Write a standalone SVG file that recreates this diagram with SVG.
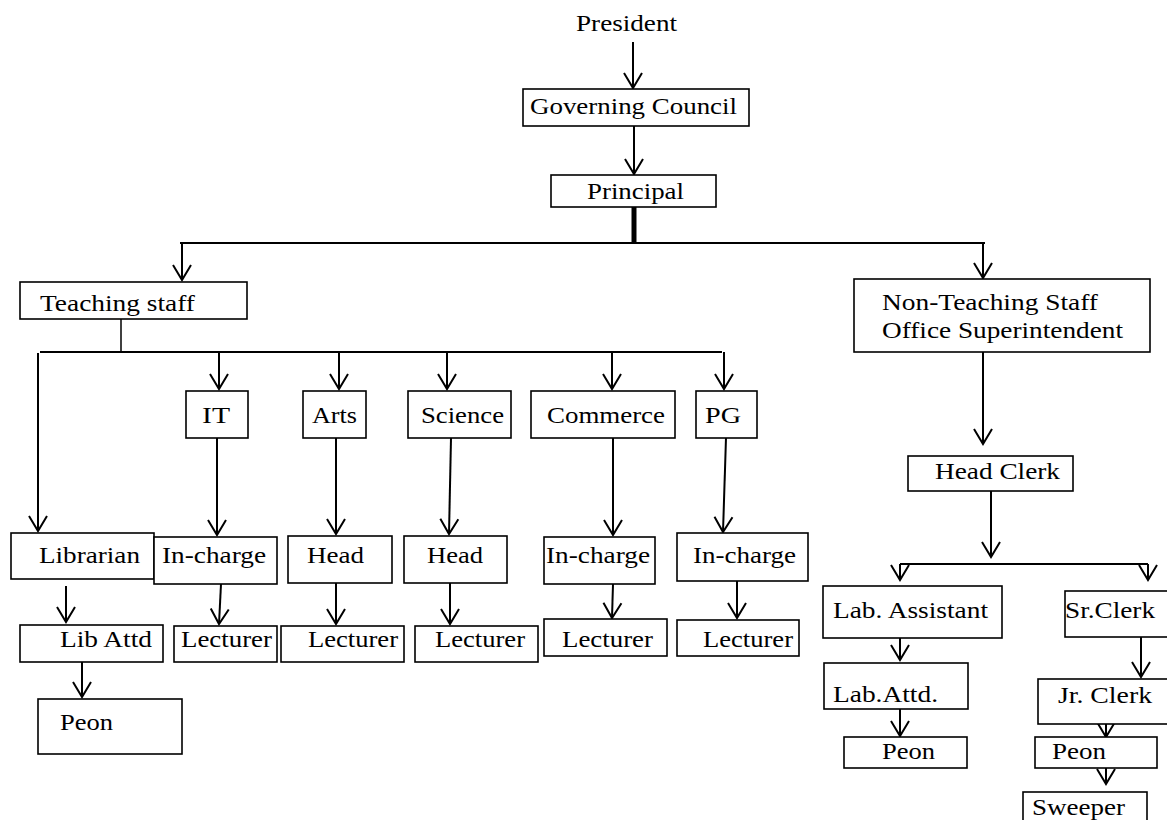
<svg xmlns="http://www.w3.org/2000/svg" width="1167" height="820" viewBox="0 0 1167 820">
<style>
.b{fill:#fff;stroke:#000;stroke-width:1.6}
.t{font-size:24px;fill:#000}
.c{fill:none;stroke:#000;stroke-width:2}
.a{marker-end:url(#ah)}
</style>
<defs>
<marker id="ah" markerUnits="userSpaceOnUse" viewBox="-16 -10 18 20" refX="0" refY="0" markerWidth="18" markerHeight="20" orient="auto" overflow="visible">
<path d="M-15,-9 L0,0 L-15,9" fill="none" stroke="#000" stroke-width="2"/>
</marker>
</defs>
<rect width="1167" height="820" fill="#fff"/>
<g id="connectors">
<path class="c a" d="M633,42 V88"/>
<path class="c a" d="M634,126 V174"/>
<path class="c" d="M634,207 V243" style="stroke-width:5"/>
<path class="c" d="M180,243 H985"/>
<path class="c a" d="M182,243 V280"/>
<path class="c a" d="M983,243 V278"/>
<path class="c" d="M121,319 V352" style="stroke-width:1.5"/>
<path class="c" d="M40,352 H722"/>
<path class="c a" d="M38,353 V531"/>
<path class="c a" d="M219,352 V389"/>
<path class="c a" d="M339,352 V389"/>
<path class="c a" d="M447,352 V389"/>
<path class="c a" d="M612,352 V389"/>
<path class="c a" d="M724,352 V389"/>
<path class="c a" d="M217,438 V535"/>
<path class="c a" d="M336,438 V534"/>
<path class="c a" d="M451,438 L449,534"/>
<path class="c a" d="M613,438 V535"/>
<path class="c a" d="M726,438 L723,532"/>
<path class="c a" d="M66,586 V622"/>
<path class="c a" d="M221,584 L219,624"/>
<path class="c a" d="M336,583 V624"/>
<path class="c a" d="M450,583 V624"/>
<path class="c a" d="M613,584 L612,618"/>
<path class="c a" d="M737,581 V618"/>
<path class="c a" d="M82,662 V697"/>
<path class="c a" d="M983,352 V444"/>
<path class="c a" d="M991,491 V557"/>
<path class="c" d="M900,564 H1148"/>
<path class="c a" d="M900,564 V580"/>
<path class="c a" d="M1148,564 V580"/>
<path class="c a" d="M900,638 V660"/>
<path class="c a" d="M900,709 V736"/>
<path class="c a" d="M1141,637 V677"/>
<path class="c a" d="M1106,722 V737"/>
<path class="c a" d="M1106,768 V784"/>
</g>
<g font-family="'Liberation Serif', 'Times New Roman', Tinos, serif">
<g id="president"><text class="t" x="576" y="31" textLength="101" lengthAdjust="spacingAndGlyphs">President</text></g>
<g id="governing-council"><rect class="b" x="523" y="89" width="226" height="37"/><text class="t" x="530" y="114" textLength="207" lengthAdjust="spacingAndGlyphs">Governing Council</text></g>
<g id="principal"><rect class="b" x="551" y="175" width="165" height="32"/><text class="t" x="587" y="199" textLength="97" lengthAdjust="spacingAndGlyphs">Principal</text></g>
<g id="teaching-staff"><rect class="b" x="20" y="282" width="227" height="37"/><text class="t" x="40" y="311" textLength="155" lengthAdjust="spacingAndGlyphs">Teaching staff</text></g>
<g id="non-teaching"><rect class="b" x="854" y="279" width="296" height="73"/><text class="t" x="882" y="310" textLength="216" lengthAdjust="spacingAndGlyphs">Non-Teaching Staff</text><text class="t" x="882" y="338" textLength="241" lengthAdjust="spacingAndGlyphs">Office Superintendent</text></g>
<g id="it"><rect class="b" x="186" y="391" width="62" height="47"/><text class="t" x="202" y="423" textLength="28" lengthAdjust="spacingAndGlyphs">IT</text></g>
<g id="arts"><rect class="b" x="303" y="391" width="63" height="47"/><text class="t" x="312" y="423" textLength="45" lengthAdjust="spacingAndGlyphs">Arts</text></g>
<g id="science"><rect class="b" x="408" y="391" width="103" height="47"/><text class="t" x="421" y="423" textLength="83" lengthAdjust="spacingAndGlyphs">Science</text></g>
<g id="commerce"><rect class="b" x="531" y="391" width="144" height="47"/><text class="t" x="547" y="423" textLength="118" lengthAdjust="spacingAndGlyphs">Commerce</text></g>
<g id="pg"><rect class="b" x="696" y="391" width="61" height="47"/><text class="t" x="705" y="423" textLength="36" lengthAdjust="spacingAndGlyphs">PG</text></g>
<g id="librarian"><rect class="b" x="11" y="533" width="143" height="46"/><text class="t" x="39" y="563" textLength="101" lengthAdjust="spacingAndGlyphs">Librarian</text></g>
<g id="incharge-it"><rect class="b" x="154" y="537" width="123" height="47"/><text class="t" x="162" y="563" textLength="104" lengthAdjust="spacingAndGlyphs">In-charge</text></g>
<g id="head-arts"><rect class="b" x="288" y="536" width="104" height="47"/><text class="t" x="307" y="563" textLength="57" lengthAdjust="spacingAndGlyphs">Head</text></g>
<g id="head-science"><rect class="b" x="404" y="536" width="103" height="47"/><text class="t" x="427" y="563" textLength="56" lengthAdjust="spacingAndGlyphs">Head</text></g>
<g id="incharge-commerce"><rect class="b" x="544" y="537" width="111" height="47"/><text class="t" x="546" y="563" textLength="104" lengthAdjust="spacingAndGlyphs">In-charge</text></g>
<g id="incharge-pg"><rect class="b" x="677" y="533" width="131" height="48"/><text class="t" x="693" y="563" textLength="103" lengthAdjust="spacingAndGlyphs">In-charge</text></g>
<g id="lib-attd"><rect class="b" x="20" y="625" width="143" height="37"/><text class="t" x="60" y="647" textLength="92" lengthAdjust="spacingAndGlyphs">Lib Attd</text></g>
<g id="lecturer-it"><rect class="b" x="174" y="626" width="103" height="36"/><text class="t" x="181" y="647" textLength="91" lengthAdjust="spacingAndGlyphs">Lecturer</text></g>
<g id="lecturer-arts"><rect class="b" x="281" y="626" width="123" height="36"/><text class="t" x="308" y="647" textLength="90" lengthAdjust="spacingAndGlyphs">Lecturer</text></g>
<g id="lecturer-science"><rect class="b" x="415" y="626" width="123" height="36"/><text class="t" x="435" y="647" textLength="90" lengthAdjust="spacingAndGlyphs">Lecturer</text></g>
<g id="lecturer-commerce"><rect class="b" x="544" y="619" width="123" height="37"/><text class="t" x="562" y="647" textLength="91" lengthAdjust="spacingAndGlyphs">Lecturer</text></g>
<g id="lecturer-pg"><rect class="b" x="677" y="620" width="122" height="36"/><text class="t" x="703" y="647" textLength="90" lengthAdjust="spacingAndGlyphs">Lecturer</text></g>
<g id="peon-lib"><rect class="b" x="38" y="699" width="144" height="55"/><text class="t" x="60" y="730" textLength="53" lengthAdjust="spacingAndGlyphs">Peon</text></g>
<g id="head-clerk"><rect class="b" x="908" y="456" width="165" height="35"/><text class="t" x="935" y="479" textLength="125" lengthAdjust="spacingAndGlyphs">Head Clerk</text></g>
<g id="lab-assistant"><rect class="b" x="823" y="586" width="179" height="52"/><text class="t" x="833" y="618" textLength="155" lengthAdjust="spacingAndGlyphs">Lab. Assistant</text></g>
<g id="sr-clerk"><rect class="b" x="1065" y="591" width="110" height="46"/><text class="t" x="1065" y="618" textLength="90" lengthAdjust="spacingAndGlyphs">Sr.Clerk</text></g>
<g id="lab-attd"><rect class="b" x="824" y="663" width="144" height="46"/><text class="t" x="833" y="702" textLength="105" lengthAdjust="spacingAndGlyphs">Lab.Attd.</text></g>
<g id="peon-lab"><rect class="b" x="844" y="737" width="123" height="31"/><text class="t" x="882" y="759" textLength="53" lengthAdjust="spacingAndGlyphs">Peon</text></g>
<g id="jr-clerk"><rect class="b" x="1038" y="679" width="135" height="45"/><text class="t" x="1058" y="703" textLength="94" lengthAdjust="spacingAndGlyphs">Jr. Clerk</text></g>
<g id="peon-clerk"><rect class="b" x="1035" y="737" width="122" height="31"/><text class="t" x="1052" y="759" textLength="54" lengthAdjust="spacingAndGlyphs">Peon</text></g>
<g id="sweeper"><rect class="b" x="1023" y="792" width="124" height="35"/><text class="t" x="1032" y="815" textLength="93" lengthAdjust="spacingAndGlyphs">Sweeper</text></g>
</g>
</svg>
